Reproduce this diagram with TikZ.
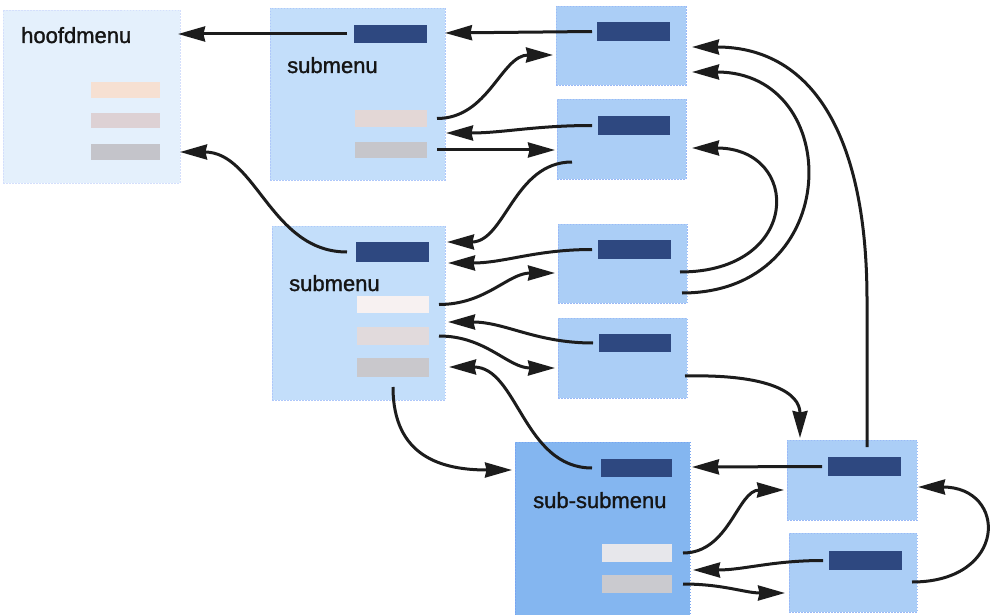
\documentclass[tikz,border=0pt]{standalone}
\usepackage{fontspec}
\setmainfont{Liberation Sans}
\newfontfamily\lblfont[FakeBold=1.3]{Liberation Sans}
\usetikzlibrary{arrows.meta,calc}
\definecolor{cHoofd}{HTML}{E4F0FC}
\definecolor{cSub}{HTML}{C3DEFA}
\definecolor{cRight}{HTML}{ABCEF6}
\definecolor{cSS}{HTML}{84B6F0}
\definecolor{cDark}{HTML}{2E4880}
\definecolor{cLine}{HTML}{1C1C1C}
\definecolor{cText}{HTML}{151515}
\definecolor{cPeach}{HTML}{F6E0D2}
\definecolor{cPinkGrey}{HTML}{DDD1D4}
\definecolor{cGreyA}{HTML}{C4C4CA}
\definecolor{cSubA}{HTML}{E3D7D6}
\definecolor{cSubB}{HTML}{C6C6CB}
\definecolor{cWhitish}{HTML}{F7F1F1}
\definecolor{cLightPG}{HTML}{E1DADC}
\definecolor{cGreyC}{HTML}{C9C8CC}
\definecolor{cSSA}{HTML}{E7E7EB}
\definecolor{cSSB}{HTML}{CACACF}
\tikzset{
  mybox/.style={rectangle, inner sep=0pt, outer sep=0pt, anchor=north west,
    line width=0.7pt, dash pattern=on 1.5pt off 1.5pt},
  item/.style={rectangle, inner sep=0pt, outer sep=0pt, anchor=north west},
  darkitem/.style={item, fill=cDark},
  lbl/.style={anchor=base west, inner sep=0pt, text=cText,
    font=\lblfont\fontsize{22}{26}\selectfont},
  conn/.style={line width=3pt, draw=cLine,
    -{Stealth[length=27pt,width=15pt,inset=1.5pt]}}
}
\begin{document}
\begin{tikzpicture}[x=1pt,y=-1pt]
\useasboundingbox (0,0) rectangle (991,615);

% boxes
\node[mybox, fill=cHoofd, draw=cHoofd!93!blue, minimum width=177pt, minimum height=173pt] (H) at (3,10) {};
\node[mybox, fill=cSub, draw=cSub!90!blue, minimum width=175pt, minimum height=172pt] (S1) at (270,8) {};
\node[mybox, fill=cRight, draw=cRight!90!blue, minimum width=130pt, minimum height=79pt] (A) at (556,6) {};
\node[mybox, fill=cRight, draw=cRight!90!blue, minimum width=129pt, minimum height=80pt] (B) at (557,99) {};
\node[mybox, fill=cRight, draw=cRight!90!blue, minimum width=129pt, minimum height=79pt] (C) at (558,224) {};
\node[mybox, fill=cRight, draw=cRight!90!blue, minimum width=129pt, minimum height=80pt] (D) at (558,318) {};
\node[mybox, fill=cSub, draw=cSub!90!blue, minimum width=173pt, minimum height=174pt] (S2) at (272,226) {};
\node[mybox, fill=cSS, draw=cSS!90!blue, minimum width=175pt, minimum height=174pt] (SS) at (515,442) {};
\node[mybox, fill=cRight, draw=cRight!90!blue, minimum width=130pt, minimum height=80pt] (E) at (787,440) {};
\node[mybox, fill=cRight, draw=cRight!90!blue, minimum width=128pt, minimum height=79pt] (F) at (789,533) {};

% items
\node[item, fill=cPeach, minimum width=69pt, minimum height=16pt] (H1) at (91,82) {};
\node[item, fill=cPinkGrey, minimum width=69pt, minimum height=15pt] (H2) at (91,113) {};
\node[item, fill=cGreyA, minimum width=69pt, minimum height=16pt] (H3) at (91,144) {};
\node[darkitem, minimum width=73pt, minimum height=18pt] (S1d) at (354,25) {};
\node[item, fill=cSubA, minimum width=72pt, minimum height=17pt] (S1a) at (355,110) {};
\node[item, fill=cSubB, minimum width=72pt, minimum height=16pt] (S1b) at (355,142) {};
\node[darkitem, minimum width=73pt, minimum height=19pt] (Ad) at (597,22) {};
\node[darkitem, minimum width=72pt, minimum height=19pt] (Bd) at (598,116) {};
\node[darkitem, minimum width=73pt, minimum height=19pt] (Cd) at (598,240) {};
\node[darkitem, minimum width=72pt, minimum height=18pt] (Dd) at (599,334) {};
\node[darkitem, minimum width=73pt, minimum height=20pt] (S2d) at (356,242) {};
\node[item, fill=cWhitish, minimum width=72pt, minimum height=17pt] (S2a) at (357,296) {};
\node[item, fill=cLightPG, minimum width=72pt, minimum height=18pt] (S2b) at (357,327) {};
\node[item, fill=cGreyC, minimum width=72pt, minimum height=19pt] (S2c) at (357,358) {};
\node[darkitem, minimum width=71pt, minimum height=18pt] (SSd) at (601,459) {};
\node[item, fill=cSSA, minimum width=70pt, minimum height=18pt] (SSa) at (602,544) {};
\node[item, fill=cSSB, minimum width=70pt, minimum height=18pt] (SSb) at (602,575) {};
\node[darkitem, minimum width=73pt, minimum height=19pt] (Ed) at (828,457) {};
\node[darkitem, minimum width=73pt, minimum height=19pt] (Fd) at (829,551) {};

% labels
\node[lbl] (tH) at (21,43) {hoofdmenu};
\node[lbl] (tS1) at (287,73) {submenu};
\node[lbl] (tS2) at (289,291) {submenu};
\node[lbl] (tSS) at (533,508) {sub-submenu};

% connectors
\draw[conn] ([xshift=-7pt]S1d.west) -- ($(H.north east)+(-2,24)$);
\draw[conn] ([xshift=-5pt]Ad.west) -- ($(S1.north east)+(0,25)$);
\draw[conn] ([xshift=10pt]S1a.east) to[out=0,in=180] ($(A.north west)+(-3,49)$);
\draw[conn] ([xshift=-6pt]Bd.west) to[out=180,in=0] ($(S1.north east)+(1,125)$);
\draw[conn] ([xshift=10pt]S1b.east) -- ($(B.north west)+(-2,51)$);
\draw[conn] ($(B.north west)+(15,63)$) to[out=180,in=0] ($(S2.north east)+(2,16)$);
\draw[conn] ([xshift=-9pt]S2d.west) to[out=180,in=0] ($(H.north east)+(0,142)$);
\draw[conn] ([xshift=-6pt]Cd.west) to[out=180,in=0] ($(S2.north east)+(3,37)$);
\draw[conn] ([xshift=10pt]S2a.east) to[out=0,in=180] ($(C.north west)+(-3,49)$);
\draw[conn] ([xshift=-6pt]Dd.west) to[out=180,in=0] ($(S2.north east)+(3,96)$);
\draw[conn] ([xshift=10pt]S2b.east) to[out=0,in=180] ($(D.north west)+(-3,50)$);
\draw[conn] ($(C.north east)+(-7,48)$) .. controls +(122,0) and +(110,0) .. ($(B.north east)+(6,49)$);
\draw[conn] ($(C.north east)+(-5,69)$) .. controls +(163,0) and +(153,0) .. ($(A.north east)+(6,66)$);
\draw[conn] ($(E.north west)+(80,7)$) -- ++(0,-147) .. controls +(0,-160) and +(123,0) .. ($(A.north east)+(6,41)$);
\draw[conn] ($(D.north east)+(-2,58)$) .. controls +(85,-2) and +(0,-45) .. ($(E.north west)+(13,-2)$);
\draw[conn] ([yshift=-10pt]S2c.south) .. controls +(0,70) and +(-70,0) .. ($(SS.north west)+(-3,28)$);
\draw[conn] ([xshift=-9pt]SSd.west) to[out=180,in=0] ($(S2.north east)+(4,141)$);
\draw[conn] ([xshift=-6pt]Ed.west) -- ($(SS.north east)+(2,25)$);
\draw[conn] ([xshift=11pt]SSa.east) to[out=0,in=180] ($(E.north west)+(-3,50)$);
\draw[conn] ([xshift=-6pt]Fd.west) to[out=180,in=0] ($(SS.north east)+(3,128)$);
\draw[conn] ([xshift=11pt]SSb.east) to[out=0,in=180] ($(F.north west)+(-4,60)$);
\draw[conn] ($(F.north east)+(-5,49)$) .. controls +(96,0) and +(90,0) .. ($(E.north east)+(1,47)$);
\end{tikzpicture}
\end{document}
